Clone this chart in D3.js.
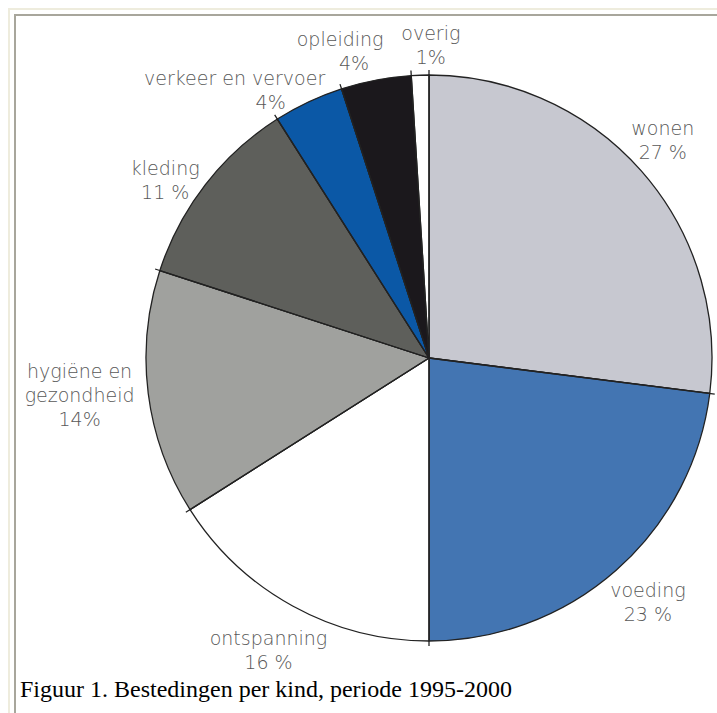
<!DOCTYPE html>
<html>
<head>
<meta charset="utf-8">
<script src="https://cdn.jsdelivr.net/npm/d3@7"></script>
<style>
  html, body { margin: 0; padding: 0; background: #fff; }
  svg { display: block; }
</style>
</head>
<body>
<svg id="chart" width="717" height="713"></svg>
<script>
// ---- data ----
const categories = ["wonen", "voeding", "ontspanning", "hygiëne en gezondheid", "kleding", "verkeer en vervoer", "opleiding", "overig"];
const values = [27, 23, 16, 14, 11, 4, 4, 1];
const labelLines = [
  ["wonen", "27 %"],
  ["voeding", "23 %"],
  ["ontspanning", "16 %"],
  ["hygiëne en", "gezondheid", "14%"],
  ["kleding", "11 %"],
  ["verkeer en vervoer", "4%"],
  ["opleiding", "4%"],
  ["overig", "1%"]
];
const caption = "Figuur 1. Bestedingen per kind, periode 1995-2000";

// ---- styles / layout ----
const colors = ["#c7c8d0", "#4375b2", "#ffffff", "#a0a19e", "#5e5f5b", "#0b58a6", "#1b181c", "#ffffff"];
// nudges of the label block relative to the polar anchor (dx, dy) and second-line shift
const labelNudge = [
  [-10, -3, 0], [4, 0, 0], [-4, 7, 0], [-27, -4, 0],
  [-7, 21, 0], [-56, 26, 36], [-28, 12, 14], [12, 12, 0]
];

const W = 717, H = 713;
const cx = 429, cy = 358, R = 283, labelR = 325, lineH = 24;

const svg = d3.select("#chart");

// frame
svg.append("path").attr("d", `M9,${H} V9 H${W}`).attr("fill", "none")
  .attr("stroke", "#eeecdd").attr("stroke-width", 2);
svg.append("path").attr("d", `M15,${H} V15 H${W}`).attr("fill", "none")
  .attr("stroke", "#a8a69c").attr("stroke-width", 2);

const pie = d3.pie().sort(null).value(d => d).startAngle(0).endAngle(2 * Math.PI);
const arcs = pie(values);
const arc = d3.arc().innerRadius(0).outerRadius(R);

const g = svg.append("g").attr("transform", `translate(${cx},${cy})`);

g.selectAll("path.slice").data(arcs).enter().append("path")
  .attr("class", "slice")
  .attr("d", arc)
  .attr("fill", (d, i) => colors[i])
  .attr("stroke", "#222")
  .attr("stroke-width", 1.3)
  .attr("stroke-linejoin", "round");

// radial boundary lines slightly overshooting the rim
g.selectAll("line.bound").data(arcs).enter().append("line")
  .attr("class", "bound")
  .attr("x1", 0).attr("y1", 0)
  .attr("x2", d => Math.sin(d.startAngle) * (R + 5))
  .attr("y2", d => -Math.cos(d.startAngle) * (R + 5))
  .attr("stroke", "#222").attr("stroke-width", 1.3);

// labels
g.selectAll("text.lab").data(arcs).enter().append("text")
  .attr("class", "lab")
  .attr("font-family", "'DejaVu Sans', sans-serif")
  .attr("font-size", 19)
  .attr("font-weight", 300)
  .attr("fill", "#585858")
  .attr("text-anchor", "middle")
  .each(function(d, i) {
    const a = (d.startAngle + d.endAngle) / 2;
    const lines = labelLines[i];
    const x = Math.sin(a) * labelR + labelNudge[i][0];
    const y = -Math.cos(a) * labelR + labelNudge[i][1];
    const top = y - (lines.length - 1) * lineH / 2 + 7;
    const t = d3.select(this);
    lines.forEach((ln, k) => {
      t.append("tspan")
        .attr("x", x + (k > 0 ? labelNudge[i][2] : 0))
        .attr("y", top + k * lineH)
        .text(ln);
    });
  });

// caption
svg.append("text")
  .attr("x", 20).attr("y", 697)
  .attr("font-family", "'Liberation Serif', 'Times New Roman', serif")
  .attr("font-size", 24)
  .attr("fill", "#000")
  .text(caption);
</script>
</body>
</html>
